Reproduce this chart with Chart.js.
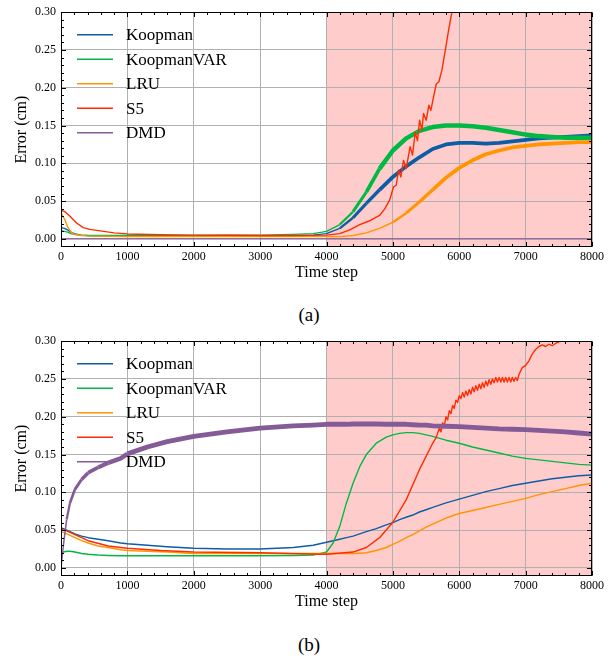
<!DOCTYPE html>
<html><head><meta charset="utf-8">
<script src="https://cdn.jsdelivr.net/npm/chart.js@4.4.1/dist/chart.umd.min.js"></script>
<style>
html,body{margin:0;padding:0;background:#fff;}
body{width:611px;height:658px;position:relative;overflow:hidden;font-family:"Liberation Serif","Times New Roman",serif;}
.wrap{position:absolute;left:0;width:611px;height:290px;}
.cap{position:absolute;width:40px;text-align:center;font-size:19px;line-height:20px;color:#000;}
</style></head><body>
<div class="wrap" style="top:0"><canvas id="ca"></canvas></div>
<div class="cap" style="left:289px;top:305px">(a)</div>
<div class="wrap" style="top:329px"><canvas id="cb"></canvas></div>
<div class="cap" style="left:289px;top:635px">(b)</div>
<script>
// ---------- DATA ----------
const seriesNames = ["Koopman", "KoopmanVAR", "LRU", "S5", "DMD"];
const forecastStart = 4000, forecastEnd = 8000;
const xTickValues = [0,1000,2000,3000,4000,5000,6000,7000,8000];
const yTickLabels = ["0.00","0.05","0.10","0.15","0.20","0.25","0.30"];

// (a)
const stepsA = [0,50,100,150,200,300,400,600,800,1000,1500,2000,2500,3000,3500,3800,4000,4200,4400,4600,4800,5000,5200,5400,5600,5800,6000,6200,6400,6600,6800,7000,7200,7400,7600,7800,8000];
const koopmanA = [0.015,0.014,0.012,0.009,0.007,0.005,0.0045,0.004,0.004,0.004,0.004,0.004,0.004,0.004,0.0042,0.005,0.007,0.014,0.028,0.047,0.065,0.082,0.096,0.108,0.119,0.125,0.127,0.127,0.126,0.127,0.129,0.131,0.133,0.134,0.135,0.136,0.137];
const koopmanOscA = [0,0,0,0,0,0,0,0,0,0,0,0,0,0,0,0,0.001,0.002,0.003,0.004,0.0045,0.005,0.005,0.005,0.005,0.005,0.005,0.005,0.005,0.005,0.005,0.005,0.005,0.005,0.005,0.005,0.005];
const koopmanVarA = [0.011,0.010,0.009,0.007,0.006,0.005,0.0045,0.0045,0.0045,0.0045,0.0045,0.0045,0.0048,0.005,0.006,0.007,0.010,0.019,0.036,0.062,0.093,0.117,0.133,0.143,0.148,0.150,0.150,0.149,0.147,0.144,0.141,0.138,0.136,0.135,0.134,0.134,0.134];
const koopmanVarOscA = [0,0,0,0,0,0,0,0,0,0,0,0,0,0,0,0,0.001,0.002,0.003,0.004,0.005,0.006,0.006,0.006,0.006,0.006,0.006,0.006,0.006,0.006,0.006,0.006,0.006,0.006,0.006,0.006,0.006];
const lruA = [0.034,0.027,0.016,0.009,0.006,0.0045,0.004,0.0035,0.0033,0.003,0.003,0.003,0.003,0.003,0.003,0.003,0.003,0.003,0.0045,0.008,0.014,0.022,0.034,0.049,0.065,0.081,0.094,0.104,0.112,0.117,0.121,0.123,0.125,0.126,0.127,0.128,0.128];
const lruOscA = [0,0,0,0,0,0,0,0,0,0,0,0,0,0,0,0,0,0,0,0,0.001,0.002,0.003,0.004,0.0045,0.005,0.005,0.005,0.005,0.005,0.005,0.005,0.005,0.005,0.005,0.005,0.005];
const dmdA = [0,0,0,0,0,0,0,0,0,0,0,0,0,0,0,0,0,0,0,0,0,0,0,0,0,0,0,0,0,0,0,0,0,0,0,0,0];
const s5StepsA = [0,60,135,235,335,435,590,800,1000,1500,2000,2500,3000,3500,4000,4200,4350,4500,4650,4800,4880,4950,5010,5050,5085,5120,5160,5200,5260,5296,5336,5371,5402,5437,5462,5502,5542,5572,5613,5653,5693,5738,5789,5839,5889,5950];
const s5A = [0.038,0.036,0.030,0.021,0.015,0.0126,0.0106,0.008,0.0066,0.0055,0.005,0.0048,0.0046,0.0045,0.005,0.007,0.012,0.019,0.024,0.031,0.040,0.051,0.069,0.071,0.091,0.082,0.104,0.093,0.122,0.111,0.141,0.130,0.157,0.144,0.166,0.157,0.177,0.170,0.188,0.205,0.208,0.223,0.249,0.276,0.300,0.330];

// (b)
const stepsB = [0,35,85,135,210,310,410,560,710,900,1000,1300,1600,2000,2500,3000,3500,3800,4000,4100,4200,4300,4400,4500,4600,4750,4900,5000,5100,5200,5300,5400,5500,5600,5800,6000,6200,6400,6600,6800,7000,7200,7400,7600,7800,8000];
const koopmanB = [0.053,0.052,0.050,0.048,0.045,0.042,0.040,0.038,0.036,0.033,0.032,0.030,0.028,0.026,0.025,0.025,0.027,0.030,0.034,0.036,0.038,0.040,0.042,0.045,0.048,0.052,0.057,0.060,0.064,0.067,0.070,0.074,0.077,0.080,0.086,0.091,0.096,0.101,0.105,0.109,0.112,0.115,0.118,0.120,0.122,0.123];
const koopmanVarB = [0.020,0.021,0.022,0.022,0.021,0.019,0.018,0.017,0.0165,0.016,0.016,0.016,0.016,0.016,0.016,0.016,0.0165,0.017,0.021,0.033,0.055,0.086,0.112,0.134,0.150,0.165,0.173,0.176,0.178,0.179,0.179,0.178,0.176,0.174,0.169,0.165,0.160,0.156,0.152,0.148,0.145,0.143,0.141,0.139,0.137,0.136];
const lruB = [0.048,0.047,0.045,0.043,0.040,0.036,0.033,0.029,0.027,0.024,0.023,0.022,0.021,0.019,0.019,0.019,0.019,0.019,0.019,0.019,0.019,0.019,0.019,0.0195,0.020,0.023,0.027,0.031,0.035,0.040,0.044,0.049,0.054,0.058,0.066,0.072,0.076,0.080,0.084,0.088,0.092,0.097,0.101,0.105,0.109,0.112];
const dmdB = [0.000,0.029,0.064,0.086,0.104,0.117,0.126,0.133,0.139,0.145,0.151,0.160,0.167,0.174,0.180,0.185,0.188,0.189,0.190,0.190,0.190,0.190,0.1905,0.1905,0.1905,0.1905,0.190,0.190,0.190,0.190,0.1895,0.189,0.189,0.188,0.1875,0.187,0.186,0.185,0.184,0.1835,0.183,0.182,0.181,0.180,0.1785,0.177];
const dmdOscB = [0,0.001,0.002,0.003,0.0035,0.004,0.0045,0.005,0.0055,0.006,0.006,0.0065,0.0065,0.0065,0.0065,0.0065,0.0065,0.0065,0.0065,0.0065,0.0065,0.0065,0.0065,0.0065,0.0065,0.0065,0.0065,0.0065,0.0065,0.0065,0.0065,0.0065,0.0065,0.0065,0.0065,0.0065,0.0065,0.0065,0.0065,0.0065,0.0065,0.0065,0.0065,0.0065,0.0065,0.0065];
const s5StepsB = [0,85,210,410,710,1000,1500,2000,3000,3900,4000,4400,4600,4800,5000,5200,5400,5600,5650,5700,5725,5750,5775,5800,5825,5850,5875,5900,5925,5950,5975,6000,6025,6050,6075,6100,6125,6150,6175,6200,6225,6250,6275,6300,6325,6350,6375,6400,6425,6450,6475,6500,6525,6550,6575,6600,6625,6650,6675,6700,6725,6750,6775,6800,6825,6850,6875,6900,6950,7000,7050,7100,7150,7200,7250,7300,7350,7400,7450,7500,7550,7600];
const s5B = [0.051,0.049,0.044,0.036,0.029,0.026,0.023,0.021,0.020,0.018,0.018,0.021,0.027,0.040,0.0605,0.090,0.130,0.165,0.172,0.185,0.180,0.192,0.188,0.200,0.196,0.208,0.204,0.215,0.211,0.222,0.219,0.228,0.224,0.232,0.226,0.234,0.228,0.236,0.230,0.239,0.233,0.241,0.235,0.243,0.237,0.245,0.239,0.247,0.241,0.249,0.243,0.250,0.245,0.252,0.246,0.252,0.246,0.252,0.246,0.252,0.246,0.252,0.246,0.252,0.247,0.252,0.248,0.256,0.265,0.268,0.274,0.283,0.289,0.293,0.295,0.293,0.296,0.294,0.297,0.299,0.310,0.320];

// ---------- STYLE ----------
const colors = ["#0C5DA5", "#00B945", "#FF9500", "#FF2C00", "#845B97"];
const LW = 1.4;
Chart.defaults.font.family = "'Liberation Serif','Times New Roman',serif";
Chart.defaults.color = "#000";

function pts(steps, vals){ return steps.map((t,i)=>({x:t, y:vals[i]})); }
function oscWidth(arr){
  return ctx => {
    if (!arr) return LW;
    const s = Math.max(arr[ctx.p0DataIndex] || 0, arr[ctx.p1DataIndex] || 0);
    const y = ctx.chart.scales.y;
    const px = Math.abs(y.getPixelForValue(0) - y.getPixelForValue(s));
    return Math.max(LW, px);
  };
}
function ds(i, steps, vals, osc){
  return {
    label: seriesNames[i], data: pts(steps, vals),
    borderColor: colors[i], backgroundColor: colors[i],
    borderWidth: LW, pointRadius: 0, tension: 0, fill: false,
    borderJoinStyle: 'round', borderCapStyle: 'butt',
    order: 5 - i,
    segment: { borderWidth: oscWidth(osc) }
  };
}

const decorPlugin = {
  id: 'decor',
  beforeDraw(chart){
    const {ctx, chartArea:a, scales:{x}} = chart;
    const x0 = x.getPixelForValue(forecastStart), x1 = x.getPixelForValue(forecastEnd);
    ctx.save();
    ctx.fillStyle = 'rgba(255,0,0,0.2)';
    ctx.fillRect(x0, a.top, x1 - x0, a.bottom - a.top);
    ctx.restore();
  },
  afterDatasetsDraw(chart){
    const {ctx, chartArea:a, scales:{x, y}} = chart;
    ctx.save();
    ctx.strokeStyle = '#000'; ctx.lineWidth = 1;
    const L = Math.round(a.left)+0.5, R = Math.round(a.right)-0.5, T = Math.round(a.top)+0.5, B = Math.round(a.bottom)-0.5;
    ctx.beginPath();
    // x ticks (major 1000, minor 200)
    for (let v = x.min; v <= x.max + 1e-6; v += 200) {
      const px = Math.round(x.getPixelForValue(v)) + 0.5;
      const len = (v % 1000 === 0) ? 4.5 : 2.5;
      ctx.moveTo(px, B); ctx.lineTo(px, B - len);
      ctx.moveTo(px, T); ctx.lineTo(px, T + len);
    }
    // y ticks (major 0.05, minor 0.01)
    for (let k = Math.ceil(y.min / 0.01); k * 0.01 <= y.max + 1e-9; k++) {
      const v = k * 0.01;
      const py = Math.round(y.getPixelForValue(v)) + 0.5;
      const len = (k % 5 === 0) ? 4.5 : 2.5;
      ctx.moveTo(L, py); ctx.lineTo(L + len, py);
      ctx.moveTo(R, py); ctx.lineTo(R - len, py);
    }
    ctx.stroke();
    ctx.strokeRect(L, T, R - L, B - T);
    ctx.restore();
  },
  afterDraw(chart){
    const {ctx, chartArea:a} = chart;
    ctx.save();
    ctx.font = "17px 'Liberation Serif','Times New Roman',serif";
    ctx.textBaseline = 'middle';
    ctx.textAlign = 'left';
    chart.data.datasets.forEach((d, i) => {
      const yy = a.top + 22.5 + i * 24.5;
      ctx.strokeStyle = d.borderColor; ctx.lineWidth = 1.6;
      ctx.beginPath(); ctx.moveTo(a.left + 16, yy); ctx.lineTo(a.left + 52, yy); ctx.stroke();
      ctx.fillStyle = '#000';
      ctx.fillText(d.label, a.left + 65, yy + 1);
    });
    ctx.restore();
  }
};

function makeChart(id, datasets){
  return new Chart(document.getElementById(id), {
    type: 'line',
    data: { datasets },
    plugins: [decorPlugin],
    options: {
      responsive: true, maintainAspectRatio: false, animation: false,
      layout: { padding: { top: 12, right: 19, bottom: 0, left: 0 } },
      plugins: { legend: { display: false }, tooltip: { enabled: false } },
      scales: {
        x: {
          type: 'linear', min: 0, max: 8000,
          afterFit: s => { s.height = 43; },
          afterBuildTicks: s => { s.ticks = xTickValues.map(v => ({value: v})); },
          ticks: { font: { size: 12 }, color: '#000', padding: 3, maxRotation: 0, callback: v => String(v) },
          grid: { color: '#b0b0b0', lineWidth: 1, drawTicks: false },
          border: { display: false },
          title: { display: true, text: 'Time step', font: { size: 16 }, color: '#000', padding: { top: 0, bottom: 7.4 } }
        },
        y: {
          type: 'linear', min: -0.0107, max: 0.30,
          afterFit: s => { s.width = 61; },
          afterBuildTicks: s => { s.ticks = yTickLabels.map(v => ({value: parseFloat(v)})); },
          ticks: { font: { size: 12 }, color: '#000', padding: 5, callback: v => v.toFixed(2) },
          grid: { color: '#b0b0b0', lineWidth: 1, drawTicks: false },
          border: { display: false },
          title: { display: true, text: 'Error (cm)', font: { size: 16 }, color: '#000', padding: { top: 12, bottom: 0 } }
        }
      }
    }
  });
}

makeChart('ca', [
  ds(0, stepsA, koopmanA, koopmanOscA),
  ds(1, stepsA, koopmanVarA, koopmanVarOscA),
  ds(2, stepsA, lruA, lruOscA),
  ds(3, s5StepsA, s5A, null),
  ds(4, stepsA, dmdA, null)
]);
makeChart('cb', [
  ds(0, stepsB, koopmanB, null),
  ds(1, stepsB, koopmanVarB, null),
  ds(2, stepsB, lruB, null),
  ds(3, s5StepsB, s5B, null),
  ds(4, stepsB, dmdB, dmdOscB)
]);
</script>
</body></html>
